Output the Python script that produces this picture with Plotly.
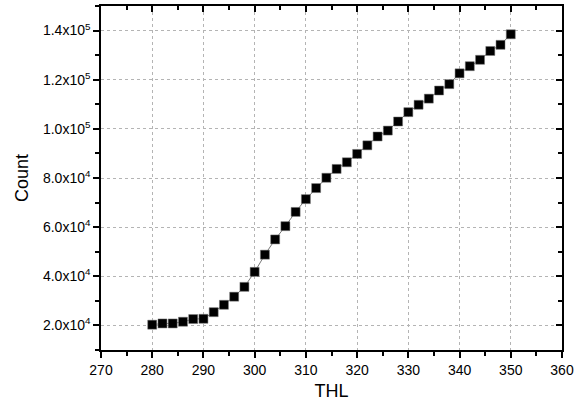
import plotly.graph_objects as go

thl = [280, 282, 284, 286, 288, 290, 292, 294, 296, 298, 300, 302, 304, 306, 308, 310, 312, 314,
       316, 318, 320, 322, 324, 326, 328, 330, 332, 334, 336, 338, 340, 342, 344, 346, 348, 350]
count = [20300, 20800, 20800, 21500, 22600, 22700, 25400, 28400, 31700, 35700, 41800, 48800,
         55000, 60400, 66200, 71400, 75900, 80100, 83700, 86400, 89800, 93300, 96900, 99300,
         103000, 106800, 109800, 112300, 115600, 118200, 122600, 125500, 128100, 131700, 134200, 138500]

y_tickvals = [20000, 40000, 60000, 80000, 100000, 120000, 140000]
y_ticktext = ["2.0x10<sup>4</sup>", "4.0x10<sup>4</sup>", "6.0x10<sup>4</sup>", "8.0x10<sup>4</sup>",
              "1.0x10<sup>5</sup>", "1.2x10<sup>5</sup>", "1.4x10<sup>5</sup>"]

x_range = [270, 360]
y_range = [10000, 150000]

font_family = "Liberation Sans, Arial, sans-serif"

fig = go.Figure()
fig.add_trace(go.Scatter(
    x=thl, y=count, mode="lines+markers",
    line=dict(color="#555555", width=0.8),
    marker=dict(symbol="square", size=9, color="black", line=dict(color="#777777", width=0.5)),
    showlegend=False,
))
# invisible trace on the mirror axes (top/right) so they are drawn
fig.add_trace(go.Scatter(
    x=thl, y=count, mode="markers", xaxis="x2", yaxis="y2",
    marker=dict(opacity=0), hoverinfo="skip", showlegend=False,
))

common = dict(showline=True, linecolor="black", linewidth=1.5, zeroline=False)

fig.update_layout(
    width=580, height=413,
    margin=dict(l=101, r=12, t=6, b=63),
    paper_bgcolor="white", plot_bgcolor="white",
    font=dict(family=font_family, color="black", size=14),
    xaxis=dict(
        range=x_range, tickmode="linear", tick0=270, dtick=10,
        ticks="outside", ticklen=6, tickwidth=1.5, tickcolor="black",
        minor=dict(dtick=5, tick0=270, ticks="outside", ticklen=4, tickwidth=1.5, tickcolor="black", showgrid=False),
        showgrid=True, gridcolor="#b4b4b4", gridwidth=1, griddash="3px,3px",
        tickfont=dict(size=14),
        title=dict(text="THL", font=dict(size=18), standoff=8),
        **common,
    ),
    yaxis=dict(
        range=y_range, tickmode="array", tickvals=y_tickvals, ticktext=y_ticktext,
        ticks="outside", ticklen=6, tickwidth=1.5, tickcolor="black",
        minor=dict(dtick=10000, tick0=0, ticks="outside", ticklen=4, tickwidth=1.5, tickcolor="black", showgrid=False),
        showgrid=True, gridcolor="#b4b4b4", gridwidth=1, griddash="3px,3px",
        tickfont=dict(size=14),
        title=dict(text="Count", font=dict(size=18), standoff=10),
        **common,
    ),
    xaxis2=dict(
        overlaying="x", side="top", range=x_range, tickmode="linear", tick0=270, dtick=10,
        ticks="inside", ticklen=6, tickwidth=1.5, tickcolor="black", showticklabels=False,
        minor=dict(dtick=5, tick0=270, ticks="inside", ticklen=4, tickwidth=1.5, tickcolor="black"),
        showgrid=False, **common,
    ),
    yaxis2=dict(
        overlaying="y", side="right", range=y_range, tickmode="array", tickvals=y_tickvals,
        ticks="inside", ticklen=6, tickwidth=1.5, tickcolor="black", showticklabels=False,
        minor=dict(dtick=10000, tick0=0, ticks="inside", ticklen=4, tickwidth=1.5, tickcolor="black"),
        showgrid=False, **common,
    ),
)

fig.write_html("out.html")
